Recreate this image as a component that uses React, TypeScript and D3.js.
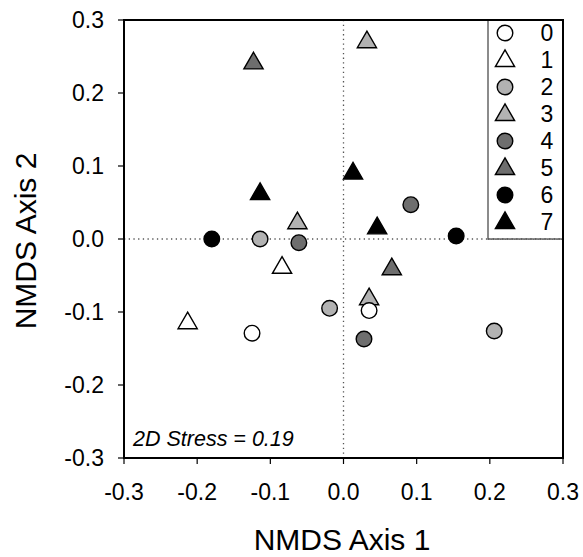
import React from 'react';
import * as d3 from 'd3';

// NMDS scores per sample, group code 0..7
const axis1 = [-0.123, 0.032, -0.114, 0.013, 0.046, 0.092, -0.180, -0.114, -0.063, -0.061, 0.154, -0.084, 0.066, -0.213, -0.125, -0.019, 0.035, 0.035, 0.028, 0.206];
const axis2 = [0.242, 0.271, 0.063, 0.091, 0.016, 0.047, 0.0, 0.0, 0.023, -0.005, 0.004, -0.038, -0.040, -0.114, -0.129, -0.095, -0.081, -0.098, -0.137, -0.126];
const group = [5, 3, 7, 7, 7, 4, 6, 2, 3, 4, 6, 1, 5, 1, 0, 2, 3, 0, 4, 2];

const groups = [0, 1, 2, 3, 4, 5, 6, 7];
const groupFill = ['#ffffff', '#ffffff', '#b2b2b2', '#b2b2b2', '#6e6e6e', '#6e6e6e', '#000000', '#000000'];
const groupShape = ['circle', 'triangle', 'circle', 'triangle', 'circle', 'triangle', 'circle', 'triangle'];

const ticks = [-0.3, -0.2, -0.1, 0.0, 0.1, 0.2, 0.3];

const W = 583;
const H = 557;
const left = 124, right = 563, top = 20, bottom = 458;

const circleSym = d3.symbol().type(d3.symbolCircle).size(Math.PI * 7.8 * 7.8);
const triSym = d3.symbol().type(d3.symbolTriangle).size(160);

const Marker = ({ x, y, g }: { x: number; y: number; g: number }) => {
  const isTri = groupShape[g] === 'triangle';
  return (
    <path
      d={(isTri ? triSym() : circleSym()) as string}
      transform={`translate(${x},${y + (isTri ? 1 : 0)})`}
      fill={groupFill[g]}
      stroke="#000"
      strokeWidth={1.4}
    />
  );
};

// hyphen minus like the original figure
const fmt = (t: number) => (t < 0 ? '-' : '') + Math.abs(t).toFixed(1);

export default function App() {
  const x = d3.scaleLinear().domain([-0.3, 0.3]).range([left, right]);
  const y = d3.scaleLinear().domain([-0.3, 0.3]).range([bottom, top]);
  const font = 'Liberation Sans, Arial, sans-serif';

  const legX = 488;
  const legBottom = y(0);

  return (
    <svg width={W} height={H} style={{ position: 'absolute', left: 0, top: 0, background: '#fff' }} fontFamily={font}>
      {/* reference lines */}
      <line x1={x(0)} x2={x(0)} y1={top} y2={bottom} stroke="#555" strokeWidth={1.3} strokeDasharray="1.3,3.4" />
      <line x1={left} x2={right} y1={y(0)} y2={y(0)} stroke="#555" strokeWidth={1.3} strokeDasharray="1.3,3.4" />

      {/* legend box */}
      <rect x={legX} y={top} width={right - legX} height={legBottom - top} fill="#fff" stroke="#666" strokeWidth={1.5} />
      {groups.map((g, i) => (
        <g key={g}>
          <Marker x={505} y={33 + i * 27} g={g} />
          <text x={547} y={33 + i * 27 + 8} fontSize={23} textAnchor="middle" fill="#000">{g}</text>
        </g>
      ))}
      <line x1={legX} x2={right} y1={y(0)} y2={y(0)} stroke="#555" strokeWidth={1.3} strokeDasharray="1.3,3.4" />

      {/* points */}
      {axis1.map((v, i) => (
        <Marker key={i} x={x(v)} y={y(axis2[i])} g={group[i]} />
      ))}

      {/* frame */}
      <rect x={left} y={top} width={right - left} height={bottom - top} fill="none" stroke="#000" strokeWidth={2} />

      {/* y axis */}
      {ticks.map(t => (
        <g key={'y' + t}>
          <line x1={left - 6} x2={left} y1={y(t)} y2={y(t)} stroke="#000" strokeWidth={1.2} />
          <text x={104} y={y(t) + 8} fontSize={23} textAnchor="end" fill="#000">{fmt(t)}</text>
        </g>
      ))}
      {/* x axis */}
      {ticks.map(t => (
        <g key={'x' + t}>
          <line x1={x(t)} x2={x(t)} y1={bottom} y2={bottom + 6} stroke="#000" strokeWidth={1.2} />
          <text x={x(t)} y={500} fontSize={23} textAnchor="middle" fill="#000">{fmt(t)}</text>
        </g>
      ))}

      <text x={342} y={550} fontSize={30} textAnchor="middle" fill="#000">NMDS Axis 1</text>
      <text transform={`translate(36,241) rotate(-90)`} fontSize={30} textAnchor="middle" fill="#000">NMDS Axis 2</text>

      <text x={133} y={446} fontSize={21.5} fontStyle="italic" fill="#000">2D Stress = 0.19</text>
    </svg>
  );
}
